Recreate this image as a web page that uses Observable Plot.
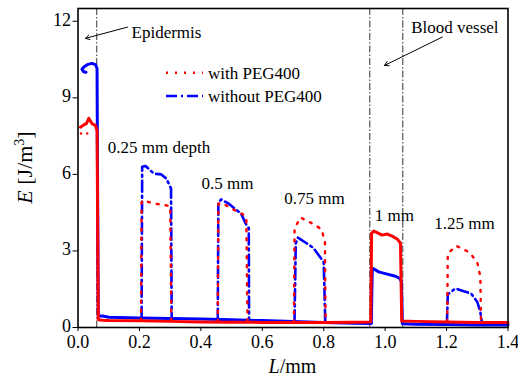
<!DOCTYPE html>
<html><head><meta charset="utf-8">
<script src="https://cdn.jsdelivr.net/npm/d3@7"></script>
<script src="https://cdn.jsdelivr.net/npm/@observablehq/plot@0.6"></script>
<style>body{margin:0;background:#fff}#chart{position:relative;width:518px;height:385px}
svg text{font-family:"Liberation Serif","Times New Roman",serif}</style>
</head><body><div id="chart"></div>
<script>
// ---- data (L in mm, E in J/m^3) ----
const seriesNames = ["with PEG400", "without PEG400"];
const seriesColors = ["#ff0000", "#0000ff"];
const xTicks = [0, 0.2, 0.4, 0.6, 0.8, 1.0, 1.2, 1.4];
const yTicks = [0, 3, 6, 9, 12];
const boundaryLines = [0.061, 0.950, 1.0575];

// continuous (dense) traces: epidermis, baseline and 1 mm vessel block
const redMain = [[0.008,7.85],[0.02,7.95],[0.028,8.0],[0.035,8.2],[0.046,7.98],[0.057,7.92],[0.062,7.7],[0.064,4.0],[0.066,0.3],[0.08,0.28],[0.1,0.27],[0.2,0.26],[0.3,0.24],[0.4,0.22],[0.5,0.21],[0.6,0.2],[0.7,0.2],[0.8,0.2],[0.9,0.21],[0.953,0.22],[0.956,3.7],[0.963,3.78],[0.974,3.72],[0.99,3.62],[1.007,3.66],[1.023,3.58],[1.039,3.47],[1.05,3.3],[1.054,0.25],[1.1,0.24],[1.2,0.22],[1.3,0.2],[1.4,0.2]];
const blueMain = [[0.026,10.0],[0.018,10.02],[0.013,10.12],[0.02,10.22],[0.03,10.3],[0.045,10.35],[0.057,10.3],[0.062,10.15],[0.064,5.0],[0.066,0.45],[0.08,0.45],[0.1,0.4],[0.2,0.37],[0.3,0.35],[0.4,0.33],[0.5,0.3],[0.6,0.27],[0.7,0.24],[0.8,0.2],[0.9,0.17],[0.955,0.16],[0.958,2.3],[0.961,2.31],[0.979,2.18],[1.007,2.09],[1.034,2.01],[1.048,1.92],[1.053,1.8],[1.056,0.15],[1.1,0.13],[1.2,0.12],[1.3,0.1],[1.4,0.1]];
const redDots = [[0.01,7.6],[0.03,7.6]];

// dashed peaks (0.25, 0.5, 0.75, 1.25 mm depth)
const redPeak025 = [[0.205,0.27],[0.207,4.9],[0.21,4.98],[0.252,4.85],[0.285,4.79],[0.3,4.75],[0.304,0.25]];
const bluePeak025 = [[0.207,0.38],[0.209,6.3],[0.22,6.33],[0.247,6.03],[0.271,6.0],[0.288,5.83],[0.303,5.44],[0.305,0.36]];
const redPeak05 = [[0.455,0.22],[0.457,4.85],[0.469,4.88],[0.507,4.62],[0.535,4.45],[0.548,4.3],[0.552,0.21]];
const bluePeak05 = [[0.455,0.3],[0.457,4.9],[0.466,5.02],[0.491,4.85],[0.531,4.46],[0.549,4.0],[0.556,3.9],[0.557,0.3]];
const redPeak075 = [[0.703,0.2],[0.705,3.88],[0.724,4.31],[0.759,4.1],[0.793,3.85],[0.804,3.35],[0.806,0.2]];
const bluePeak075 = [[0.705,0.24],[0.709,3.3],[0.716,3.52],[0.743,3.31],[0.766,3.12],[0.800,2.57],[0.805,0.22]];
const redPeak125 = [[1.202,0.22],[1.204,2.9],[1.232,3.2],[1.275,2.94],[1.30,2.55],[1.31,2.0],[1.312,0.22]];
const bluePeak125 = [[1.201,0.12],[1.204,1.3],[1.229,1.53],[1.256,1.42],[1.28,1.33],[1.30,1.0],[1.31,0.6],[1.316,0.12]];

const labelTexts = ["0.25 mm depth", "0.5 mm", "0.75 mm", "1 mm", "1.25 mm", "Epidermis", "Blood vessel"];
const labelL = [0.264, 0.487, 0.770, 1.030, 1.258, 0.288, 1.227];
const labelE = [7.05, 5.64, 5.05, 4.39, 4.06, 11.56, 11.75];
const arrowFrom = [[0.161, 11.77], [1.186, 11.38]];
const arrowTo = [[0.0244, 11.33], [0.998, 10.27]];

// ---- build tables ----
const toRows = (pts, seg) => pts.map(([L, E]) => ({L, E, seg}));
const redSolid = toRows(redMain, "r0");
const blueSolid = toRows(blueMain, "b0");
const redDashed = [redPeak025, redPeak05, redPeak075, redPeak125].flatMap((p, i) => toRows(p, "r" + (i + 1)));
const blueDashed = [bluePeak025, bluePeak05, bluePeak075, bluePeak125].flatMap((p, i) => toRows(p, "b" + (i + 1)));
const labels = labelTexts.map((t, i) => ({t, L: labelL[i], E: labelE[i]}));
const arrows = arrowFrom.map((a, i) => ({x1: a[0], y1: a[1], x2: arrowTo[i][0], y2: arrowTo[i][1]}));

const font = "Liberation Serif";
const redDash = "2,7";
const blueDash = "11,4,2,4";

const plot = Plot.plot({
  width: 518, height: 385,
  marginLeft: 77.5, marginRight: 10.5, marginTop: 8, marginBottom: 58,
  x: {domain: [0, 1.4], label: null},
  y: {domain: [0, 12.5], label: null},
  style: {fontFamily: font, fontSize: "18px", color: "black", background: "white"},
  marks: [
    Plot.ruleX(boundaryLines, {stroke: "#333", strokeWidth: 1, strokeDasharray: "7,2,1.5,2"}),
    Plot.line(blueSolid, {x: "L", y: "E", z: "seg", stroke: seriesColors[1], strokeWidth: 3, strokeLinejoin: "round", curve: "linear"}),
    Plot.line(blueDashed, {x: "L", y: "E", z: "seg", stroke: seriesColors[1], strokeWidth: 2.6, strokeDasharray: blueDash}),
    Plot.line(redSolid, {x: "L", y: "E", z: "seg", stroke: seriesColors[0], strokeWidth: 3, strokeLinejoin: "round", curve: "linear"}),
    Plot.line(redDashed, {x: "L", y: "E", z: "seg", stroke: seriesColors[0], strokeWidth: 2.4, strokeDasharray: redDash}),
    Plot.dot(redDots.map(([L, E]) => ({L, E})), {x: "L", y: "E", r: 1.2, fill: seriesColors[0], stroke: "none"}),
    Plot.text(labels, {x: "L", y: "E", text: "t", fontSize: 17, fontFamily: font, fill: "black"}),
    Plot.arrow(arrows, {x1: "x1", y1: "y1", x2: "x2", y2: "y2", stroke: "black", strokeWidth: 1, headLength: 7}),
    Plot.axisX({ticks: xTicks, tickFormat: d => d.toFixed(1), tickSize: 4, tickPadding: 4, label: null, fontSize: 18, fontFamily: font}),
    Plot.axisY({ticks: yTicks, tickFormat: () => "", tickSize: 5, label: null}),
    Plot.axisY({ticks: yTicks, tickFormat: d => String(d), tickSize: 0, tickPadding: 7, dy: -1.5, label: null, fontSize: 18, fontFamily: font}),
    Plot.frame({stroke: "black", strokeWidth: 1.6})
  ]
});
document.getElementById("chart").appendChild(plot);

// ---- legend and axis titles ----
const svg = d3.select(plot);
const lg = svg.append("g");
[[72.7, redDash, 2.4], [96, blueDash, 2.6]].forEach(([y, dash, w], i) => {
  lg.append("line").attr("x1", 166).attr("x2", 203).attr("y1", y).attr("y2", y)
    .attr("stroke", seriesColors[i]).attr("stroke-width", w).attr("stroke-dasharray", dash);
  lg.append("text").attr("x", 208).attr("y", y).attr("dy", "0.35em").attr("text-anchor", "start")
    .attr("font-family", font).attr("font-size", 17).attr("fill", "black").text(seriesNames[i]);
});

const yl = svg.append("text").attr("transform", "translate(24,167.5) rotate(-90)")
  .attr("text-anchor", "middle").attr("dy", "0.35em")
  .attr("font-family", font).attr("font-size", 22).attr("fill", "black");
yl.append("tspan").attr("font-style", "italic").text("E");
yl.append("tspan").text(" [J/m");
yl.append("tspan").attr("dy", "-8").attr("font-size", 14).text("3");
yl.append("tspan").attr("dy", "8").text("]");

const xl = svg.append("text").attr("x", 292.5).attr("y", 373).attr("text-anchor", "middle")
  .attr("font-family", font).attr("font-size", 20).attr("fill", "black");
xl.append("tspan").attr("font-style", "italic").text("L");
xl.append("tspan").text("/mm");
</script>
</body></html>
